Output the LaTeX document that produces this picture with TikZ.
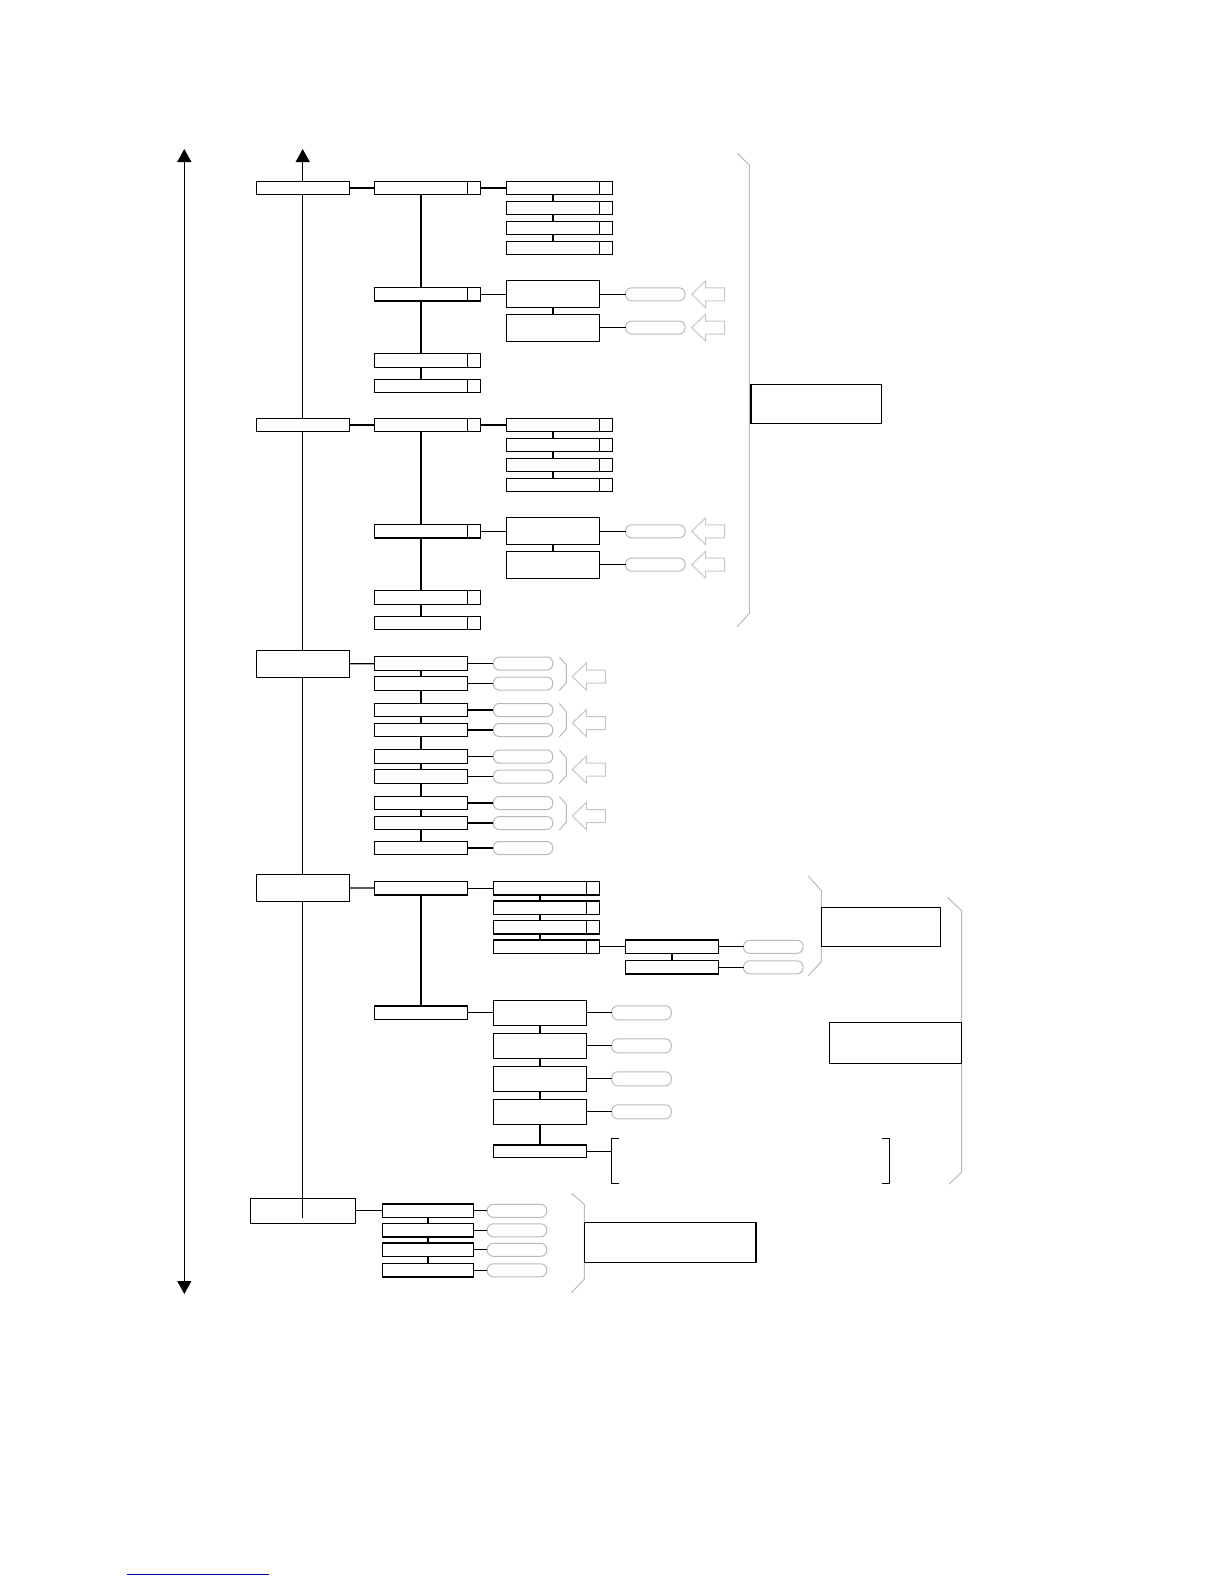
\documentclass[tikz,border=0pt]{standalone}
\usepackage{tikz}
\usetikzlibrary{arrows.meta, positioning}

\begin{document}
\begin{tikzpicture}[x=0.5pt, y=-0.5pt,
  box/.style={draw, line width=0.6pt, fill=white, inner sep=0pt, outer sep=0pt,
              minimum width=46.5pt, minimum height=6.75pt},
  tallbox/.style={box, minimum height=13.5pt},
  tab/.style={draw, line width=0.6pt, inner sep=0pt, outer sep=0pt,
              minimum width=6.5pt, minimum height=6.75pt},
  pill/.style={draw=gray!55, line width=0.5pt, rounded corners=3pt, inner sep=0pt,
               outer sep=0pt, minimum width=29.75pt, minimum height=6.5pt},
  note/.style={draw, line width=0.6pt, inner sep=0pt, outer sep=0pt},
  link/.style={line width=0.6pt},
  brace/.style={draw=gray!55, line width=0.5pt},
  hollow/.style={draw=gray!45, line width=0.5pt, line join=miter},
  tip/.style={-{Triangle[length=6.5pt, width=7pt]}}
]
\useasboundingbox (0,0) rectangle (1224,1584);

% axes
\coordinate (ltop) at (184.3,149);
\coordinate (lbot) at (184.3,1294);
\draw[link, {Triangle[length=6.5pt, width=7pt]}-{Triangle[length=6.5pt, width=7pt]}] (ltop) -- (lbot);
\coordinate (mtop) at (302.7,149);
\coordinate (mbot) at (302.7,1218);
\draw[link, tip] (mbot) -- (mtop);

% first two branches
\foreach \s/\d in {a/0,b/237}{
  \node[box] (L1\s) at (303,188+\d) {};
  \foreach \i/\y in {1/188,2/294.3,3/360.5,4/386}{
    \node[box] (L2\s\i) at (421,\y+\d) {};
    \node[tab, right=0pt of L2\s\i] (T2\s\i) {};
  }
  \foreach \i/\y in {1/188,2/208,3/228,4/248}{
    \node[box] (L3\s\i) at (553,\y+\d) {};
    \node[tab, right=0pt of L3\s\i] (T3\s\i) {};
  }
  \node[tallbox] (A\s) at (553,294.3+\d) {};
  \node[tallbox] (B\s) at (553,327.6+\d) {};
  \node[pill] (PA\s) at (655.3,294.3+\d) {};
  \node[pill] (PB\s) at (655.3,327.6+\d) {};
  \draw[link] (L1\s) -- (L2\s1);
  \draw[link] (T2\s1) -- (L3\s1);
  \draw[link] (T2\s2) -- (A\s);
  \foreach \i/\j in {1/2,2/3,3/4}{
    \draw[link] (L2\s\i) -- (L2\s\j);
    \draw[link] (L3\s\i) -- (L3\s\j);
  }
  \draw[link] (A\s) -- (B\s);
  \draw[link] (A\s) -- (PA\s);
  \draw[link] (B\s) -- (PB\s);
  \foreach \y in {294.3,327.6}
    \draw[hollow, shift={(691.7,\y+\d)}] (0,0) -- (14,-13.5) -- (14,-6.5) -- (33,-6.5)
      -- (33,6.5) -- (14,6.5) -- (14,13.5) -- cycle;
}
\draw[brace] (737.3,153.3) -- (749.3,165) -- (749.3,613.3) -- (737.3,626.7);
\node[note, minimum width=65.35pt, minimum height=19.5pt] (NA) at (816.3,403.8) {};

% third branch
\node[tallbox] (L1c) at (303,664) {};
\foreach \i/\y in {1/663.5,2/683.5,3/710,4/730,5/756.5,6/776.5,7/803,8/823,9/848}{
  \node[box] (C\i) at (421,\y) {};
  \node[pill] (PC\i) at (523,\y) {};
  \draw[link] (C\i) -- (PC\i);
}
\draw[link] (L1c) -- (C1);
\foreach \i/\j in {1/2,2/3,3/4,4/5,5/6,6/7,7/8,8/9}
  \draw[link] (C\i) -- (C\j);
\foreach \y in {663.5,710,756.5,803}{
  \draw[brace] (559.3,\y-6.5) -- (566.3,\y+1.5) -- (566.3,\y+19) -- (559.3,\y+27);
  \draw[hollow, shift={(572.3,\y+13)}] (0,0) -- (14,-13.5) -- (14,-6.5) -- (33,-6.5)
    -- (33,6.5) -- (14,6.5) -- (14,13.5) -- cycle;
}

% fourth branch
\node[tallbox] (L1d) at (303,887.7) {};
\node[box] (D1) at (421,888.3) {};
\node[box] (D2) at (421,1012.8) {};
\foreach \i/\y in {1/888.3,2/907.8,3/927.3,4/946.8}{
  \node[box] (E\i) at (540,\y) {};
  \node[tab, right=0pt of E\i] (TE\i) {};
}
\node[box] (F1) at (672,946.8) {};
\node[box] (F2) at (672,967.3) {};
\node[pill] (PF1) at (773.3,946.8) {};
\node[pill] (PF2) at (773.3,967.3) {};
\foreach \i/\y in {1/1012.8,2/1045.8,3/1078.8,4/1111.8}{
  \node[tallbox, minimum height=12.5pt] (G\i) at (540,\y) {};
  \node[pill, minimum height=7pt] (PG\i) at (641.5,\y) {};
  \draw[link] (G\i) -- (PG\i);
}
\node[box, minimum height=6.25pt] (G5) at (540,1151.3) {};
\draw[link] (L1d) -- (D1);
\draw[link] (D1) -- (E1);
\draw[link] (D1) -- (D2);
\draw[link] (D2) -- (G1);
\foreach \i/\j in {1/2,2/3,3/4}
  \draw[link] (E\i) -- (E\j);
\foreach \i/\j in {1/2,2/3,3/4,4/5}
  \draw[link] (G\i) -- (G\j);
\draw[link] (TE4) -- (F1);
\draw[link] (F1) -- (F2);
\draw[link] (F1) -- (PF1);
\draw[link] (F2) -- (PF2);
\draw[brace] (808.3,876) -- (821.3,890.7) -- (821.3,961.7) -- (808.3,975.7);
\node[note, minimum width=59.5pt, minimum height=19.5pt] (NF) at (880.8,926.8) {};
\coordinate (brk) at (611.3,1151.3);
\draw[link] (G5) -- (brk);
\draw[link] (618.7,1138.7) -| (611.3,1183.5) -- (618.7,1183.5);
\draw[link] (882.3,1138.7) -| (889.3,1183.5) -- (882.3,1183.5);
\draw[brace] (947.3,897.3) -- (961.7,910.7) -- (961.7,1172) -- (949.3,1184);
\node[note, minimum width=66.2pt, minimum height=20.5pt] (NG) at (895.5,1042.8) {};

% fifth branch
\node[box, fill=none, minimum width=52.5pt, minimum height=12.5pt] (L1e) at (303,1210.8) {};
\foreach \i/\y in {1/1210.8,2/1230.3,3/1249.8,4/1270.3}{
  \node[box, minimum width=45.5pt] (H\i) at (428,\y) {};
  \node[pill] (PH\i) at (517,\y) {};
  \draw[link] (H\i) -- (PH\i);
}
\draw[link] (L1e) -- (H1);
\foreach \i/\j in {1/2,2/3,3/4}
  \draw[link] (H\i) -- (H\j);
\draw[brace] (571.4,1193.3) -- (584.4,1204.3) -- (584.4,1279) -- (571.4,1292.7);
\node[note, minimum width=85.75pt, minimum height=20pt] (NH) at (670.2,1242.3) {};

\draw[blue!60!black, line width=0.6pt] (126.7,1574.7) -- (269,1574.7);
\end{tikzpicture}
\end{document}
